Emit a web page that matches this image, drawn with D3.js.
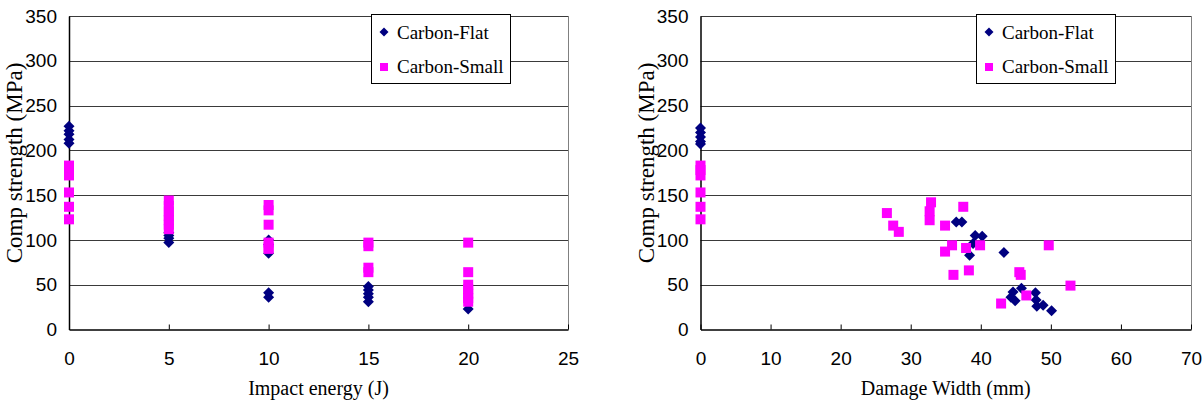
<!DOCTYPE html>
<html>
<head>
<meta charset="utf-8">
<script src="https://cdn.jsdelivr.net/npm/d3@7"></script>
<style>
body { margin: 0; background: #fff; }
svg { display: block; font-family: "Liberation Serif", "Times New Roman", serif; }
.grid line { stroke: #3a3a3a; stroke-width: 1px; }
.axis path, .axis line { stroke: #000; }
.axis text { font-size: 19px; fill: #000; }
.title { font-size: 20px; fill: #000; }
.ytitle { font-size: 23px; fill: #000; }
.legend text { font-size: 19px; fill: #000; }
</style>
</head>
<body>
<svg id="chart" width="1203" height="402"></svg>
<script>

/// Left chart: strength vs impact energy
var energyFlat = [0, 0, 0, 0, 0, 5, 5, 5, 5, 10, 10, 10, 10, 10, 15, 15, 15, 15, 15, 20];
var strengthFlatE = [227, 222, 218, 212, 208, 97, 102, 105, 108, 100, 95, 85, 41, 36, 48, 44, 40, 36, 31, 23];
var energySmall = [0, 0, 0, 0, 0, 0, 5, 5, 5, 5, 5, 5, 5, 10, 10, 10, 10, 10, 10, 15, 15, 15, 15, 20, 20, 20, 20, 20, 20, 20];
var strengthSmallE = [183, 178, 172, 153, 137, 123, 144, 138, 132, 127, 122, 117, 112, 139, 133, 117, 97, 92, 90, 97, 93, 69, 64, 97, 64, 50, 45, 40, 35, 31];

/// Right chart: strength vs damage width
var widthFlat = [0, 0, 0, 0, 0, 36.5, 37.3, 39.2, 40.2, 38.9, 38.4, 43.3, 44.6, 44.3, 44.9, 45.8, 47.8, 47.9, 48.0, 48.9, 50.1];
var strengthFlatW = [225, 220, 215, 210, 207, 120, 120, 105, 104, 96, 83, 86, 42, 36, 32, 46, 41, 33, 26, 27, 21];
var widthSmall = [0, 0, 0, 0, 0, 0, 26.6, 27.5, 28.3, 32.9, 32.7, 32.7, 37.5, 34.9, 35.9, 34.9, 37.9, 39.9, 36.1, 38.3, 49.7, 45.5, 45.7, 52.8, 42.9, 46.5];
var strengthSmallW = [183, 178, 172, 153, 137, 123, 130, 116, 109, 142, 132, 122, 137, 116, 94, 87, 91, 94, 61, 66, 94, 64, 61, 49, 29, 38];

var seriesNames = ["Carbon-Flat", "Carbon-Small"];
var seriesColors = ["#000080", "#ff00ff"];
var yTicks = [0, 50, 100, 150, 200, 250, 300, 350];

var svg = d3.select("#chart");

/// square diamond like the spreadsheet marker
function diamondPath(r) {
  return "M0," + (-r) + "L" + r + ",0L0," + r + "L" + (-r) + ",0Z";
}

function drawPanel(opt) {
  var x = d3.scaleLinear().domain(opt.xDomain).range([opt.left, opt.right]);
  var y = d3.scaleLinear().domain([0, 350]).range([329.5, 16]);
  var g = svg.append("g");

  /// gridlines
  g.append("g").attr("class", "grid")
    .selectAll("line").data(yTicks.slice(1)).join("line")
      .attr("x1", opt.left).attr("x2", opt.right)
      .attr("y1", function(d) { return Math.round(y(d)) + 0.5; })
      .attr("y2", function(d) { return Math.round(y(d)) + 0.5; });

  /// right border of plot area
  g.append("line")
    .attr("x1", opt.right + 0.5).attr("x2", opt.right + 0.5)
    .attr("y1", y(350)).attr("y2", y(0))
    .attr("stroke", "#808080");

  /// axes
  g.append("g").attr("class", "axis")
    .attr("transform", "translate(0," + y(0) + ")")
    .call(d3.axisBottom(x).tickValues(opt.xTicks).tickSizeInner(-5).tickSizeOuter(0).tickPadding(22))
    .call(function(s) { s.select(".domain").attr("stroke-width", 1.5); });

  g.append("g").attr("class", "axis")
    .attr("transform", "translate(" + opt.left + ",0)")
    .call(d3.axisLeft(y).tickValues(yTicks).tickSize(0).tickPadding(12))
    .call(function(s) { s.select(".domain").attr("stroke-width", 1.5); });

  /// axis titles
  g.append("text").attr("class", "title")
    .attr("x", (opt.left + opt.right) / 2).attr("y", 395)
    .attr("text-anchor", "middle")
    .text(opt.xTitle);

  g.append("text").attr("class", "ytitle")
    .attr("transform", "translate(" + (opt.left - 47) + "," + 163 + ") rotate(-90)")
    .attr("text-anchor", "middle")
    .text("Comp strength (MPa)");

  /// points: flat first, small on top
  g.append("g").selectAll("path").data(opt.flatX).join("path")
    .attr("d", diamondPath(5.5))
    .attr("transform", function(d, i) { return "translate(" + x(d) + "," + y(opt.flatY[i]) + ")"; })
    .attr("fill", seriesColors[0]);

  g.append("g").selectAll("rect").data(opt.smallX).join("rect")
    .attr("x", function(d) { return x(d) - 5; })
    .attr("y", function(d, i) { return y(opt.smallY[i]) - 5; })
    .attr("width", 10).attr("height", 10)
    .attr("fill", seriesColors[1]);

  /// legend
  var lg = g.append("g").attr("class", "legend")
    .attr("transform", "translate(" + opt.legendX + ",14)");
  lg.append("rect").attr("x", 0.5).attr("y", 0.5).attr("width", opt.legendW).attr("height", 69)
    .attr("fill", "#fff").attr("stroke", "#000");
  lg.append("path").attr("d", diamondPath(4.5))
    .attr("transform", "translate(13,18)").attr("fill", seriesColors[0]);
  lg.append("rect").attr("x", 9).attr("y", 49).attr("width", 8).attr("height", 8)
    .attr("fill", seriesColors[1]);
  lg.selectAll("text").data(seriesNames).join("text")
    .attr("x", 26).attr("y", function(d, i) { return 25 + i * 34; })
    .text(function(d) { return d; });
}

drawPanel({
  left: 69, right: 568, xDomain: [0, 25], xTicks: [0, 5, 10, 15, 20, 25],
  xTitle: "Impact energy (J)",
  flatX: energyFlat, flatY: strengthFlatE, smallX: energySmall, smallY: strengthSmallE,
  legendX: 371, legendW: 139
});

drawPanel({
  left: 700.5, right: 1191, xDomain: [0, 70], xTicks: [0, 10, 20, 30, 40, 50, 60, 70],
  xTitle: "Damage Width (mm)",
  flatX: widthFlat, flatY: strengthFlatW, smallX: widthSmall, smallY: strengthSmallW,
  legendX: 976, legendW: 139
});

</script>
</body>
</html>
